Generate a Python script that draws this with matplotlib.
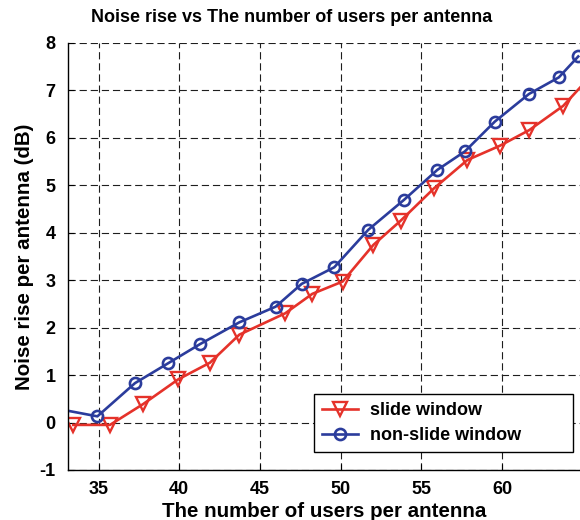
import matplotlib
matplotlib.use('Agg')
import matplotlib.pyplot as plt

plt.rcParams['font.family'] = ['Liberation Sans', 'DejaVu Sans']
plt.rcParams['font.weight'] = 'bold'
plt.rcParams['axes.unicode_minus'] = False

# Noise rise per antenna (dB) against users per antenna
slide_users = [33.44, 35.71, 37.77, 39.94, 41.90, 43.72, 46.56, 48.24, 50.12,
               52.02, 53.71, 55.77, 57.85, 59.86, 61.68, 63.78, 65.90]
slide_rise = [-0.05, -0.05, 0.39, 0.91, 1.26, 1.85, 2.30, 2.71, 2.97,
              3.74, 4.25, 4.93, 5.53, 5.83, 6.16, 6.67, 7.45]

nonslide_users = [32.60, 34.93, 37.26, 39.32, 41.28, 43.72, 45.97, 47.58, 49.60,
                  51.71, 53.92, 55.98, 57.69, 59.55, 61.66, 63.51, 64.71]
nonslide_rise = [0.28, 0.13, 0.83, 1.25, 1.65, 2.11, 2.44, 2.92, 3.27,
                 4.06, 4.69, 5.32, 5.71, 6.34, 6.92, 7.27, 7.71]

xticks = [35, 40, 45, 50, 55, 60]
yticks = [-1, 0, 1, 2, 3, 4, 5, 6, 7, 8]

RED = '#e5322a'
BLUE = '#2b3c9c'

fig = plt.figure(figsize=(5.8, 5.2), dpi=100)
ax = fig.add_axes([68 / 580, 1 - 470 / 520, 1 - 68 / 580, (470 - 42.7) / 520])

ax.plot(slide_users, slide_rise, color=RED, lw=1.9, marker='v', ms=9.5,
        mfc='none', mec=RED, mew=1.7, label='slide window')
ax.plot(nonslide_users, nonslide_rise, color=BLUE, lw=1.9, marker='o', ms=8,
        mfc='none', mec=BLUE, mew=1.9, label='non-slide window')

ax.set_xlim(33.11, 64.82)
ax.set_ylim(-1, 8)
ax.set_xticks(xticks)
ax.set_yticks(yticks)
ax.tick_params(direction='in', length=4, width=0.8, labelsize=13)
ax.tick_params(axis='x', pad=8)
ax.tick_params(axis='y', pad=9)
for lab in ax.get_xticklabels() + ax.get_yticklabels():
    lab.set_fontweight('bold')

ax.grid(True, color='#1e1e1e', lw=0.8, linestyle=(0, (6.5, 3.5)))
ax.set_axisbelow(True)

for side in ('top', 'right'):
    ax.spines[side].set_visible(False)
for side in ('left', 'bottom'):
    ax.spines[side].set_linewidth(1.0)

ax.set_xlabel('The number of users per antenna', fontsize=14.8,
              fontweight='bold', labelpad=3)
ax.set_ylabel('Noise rise per antenna (dB)', fontsize=14.8,
              fontweight='bold', labelpad=4)
fig.text(292 / 580, 1 - 17 / 520, 'Noise rise vs The number of users per antenna',
         ha='center', va='center', fontsize=13, fontweight='bold')

# MATLAB-style legend box: wider than its contents, entries left-aligned
leg = ax.legend(loc='lower left', bbox_to_anchor=(0.4805, 0.042, 0.506, 0.13),
                mode='expand', fancybox=False, framealpha=1, edgecolor='black',
                prop={'weight': 'bold', 'size': 13},
                handlelength=2.0, handletextpad=0.65, borderpad=0.45,
                labelspacing=0.42, borderaxespad=0)
leg.get_frame().set_linewidth(1.0)

fig.savefig('out.png', dpi=100)
